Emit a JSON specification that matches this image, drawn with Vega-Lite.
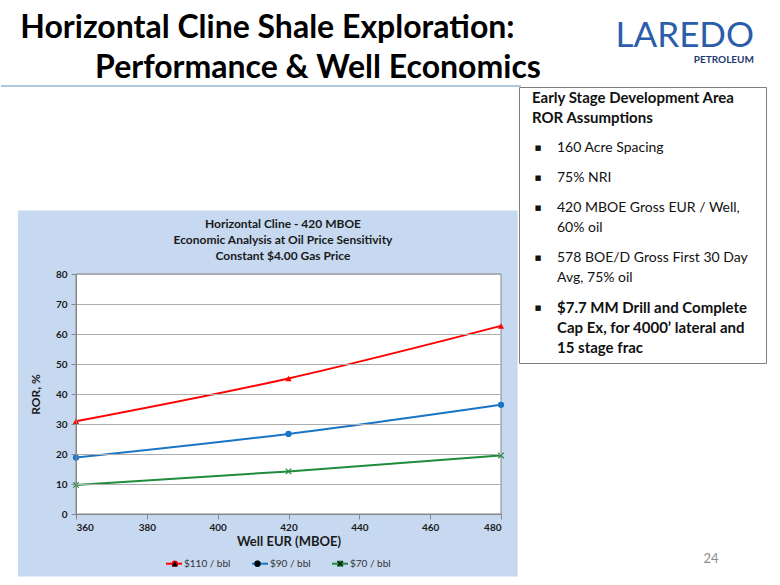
{
  "$schema": "https://vega.github.io/schema/vega-lite/v6.json",
  "background": "white",
  "padding": {"left": 0, "top": 12, "right": 0, "bottom": 0},
  "config": {
    "font": "Lato",
    "view": {"stroke": "#7F7F7F", "strokeWidth": 1, "fill": "white"}
  },
  "align": "none",
  "spacing": -28,
  "hconcat": [
    {
      "width": 425,
      "height": 427,
      "view": {"stroke": null, "fill": null},
      "title": {
        "text": ["Horizontal Cline Shale Exploration:\u00a0\u00a0\u00a0\u00a0\u200b", "\u200b\u00a0\u00a0\u00a0\u00a0\u00a0\u00a0\u00a0\u00a0\u00a0Performance & Well Economics"],
        "subtitle": ["Horizontal Cline - 420 MBOE", "Economic Analysis at Oil Price Sensitivity", "Constant $4.00 Gas Price"],
        "anchor": "middle",
        "frame": "group",
        "dx": -5.5,
        "offset": -178,
        "font": "Lato",
        "fontSize": 32,
        "fontWeight": "bold",
        "color": "#000000",
        "lineHeight": 40,
        "subtitleFont": "Lato",
        "subtitleFontSize": 12,
        "subtitleFontWeight": "bold",
        "subtitleColor": "#1A1A1A",
        "subtitleLineHeight": 16,
        "subtitlePadding": 134
      },
      "data": {
        "values": [
          {"eur": 360, "ror": 30.9, "series": "$110 / bbl"},
          {"eur": 420, "ror": 45.2, "series": "$110 / bbl"},
          {"eur": 480, "ror": 62.7, "series": "$110 / bbl"},
          {"eur": 360, "ror": 18.8, "series": "$90 / bbl"},
          {"eur": 420, "ror": 26.7, "series": "$90 / bbl"},
          {"eur": 480, "ror": 36.4, "series": "$90 / bbl"},
          {"eur": 360, "ror": 9.7, "series": "$70 / bbl"},
          {"eur": 420, "ror": 14.2, "series": "$70 / bbl"},
          {"eur": 480, "ror": 19.5, "series": "$70 / bbl"}
        ]
      },
      "layer": [
        {
          "data": {"values": [{}]},
          "mark": {"type": "rule", "color": "#95B3D7", "strokeWidth": 1.5},
          "encoding": {
            "x": {"datum": 338.8, "type": "quantitative"},
            "x2": {"datum": 485.6},
            "y": {"datum": 142.7, "type": "quantitative"}
          }
        },
        {
          "data": {"values": [{}]},
          "mark": {"type": "rect", "fill": "#C6D9F1", "stroke": null},
          "encoding": {
            "x": {"datum": 343.6, "type": "quantitative"},
            "x2": {"datum": 484.7},
            "y": {"datum": -20.8, "type": "quantitative"},
            "y2": {"datum": 101.2}
          }
        },
        {
          "data": {"values": [{}]},
          "mark": {"type": "rect", "fill": "white", "stroke": "#868686", "strokeWidth": 1},
          "encoding": {
            "x": {"datum": 360, "type": "quantitative"},
            "x2": {"datum": 480},
            "y": {"datum": 0, "type": "quantitative"},
            "y2": {"datum": 80}
          }
        },
        {
          "mark": {"type": "line", "interpolate": "monotone", "strokeWidth": 2},
          "encoding": {
            "x": {
              "field": "eur", "type": "quantitative",
              "scale": {"domain": [360, 480], "nice": false, "zero": false},
              "axis": {
                "title": "Well EUR (MBOE)", "grid": false, "tickCount": 6, "zindex": 1,
                "domainColor": "#868686", "tickColor": "#868686", "tickSize": 5,
                "labelFont": "Lato", "labelFontSize": 10, "labelFontWeight": "bold", "labelColor": "#1A1A1A", "labelPadding": 3,
                "titleFont": "Lato", "titleFontSize": 13, "titleFontWeight": "bold", "titleColor": "#1A1A1A", "titlePadding": 3
              }
            },
            "y": {
              "field": "ror", "type": "quantitative",
              "scale": {"domain": [0, 80], "nice": false, "range": [427, 187]},
              "axis": {
                "title": "ROR, %", "grid": true, "tickCount": 8, "zindex": 1,
                "gridColor": "#ADADAD", "gridWidth": 1.2,
                "domainColor": "#868686", "tickColor": "#868686", "tickSize": 5,
                "labelFont": "Lato", "labelFontSize": 10, "labelFontWeight": "bold", "labelColor": "#1A1A1A", "labelPadding": 4,
                "titleFont": "Lato", "titleFontSize": 12, "titleFontWeight": "bold", "titleColor": "#1A1A1A", "titlePadding": 13
              }
            },
            "color": {
              "field": "series", "type": "nominal",
              "scale": {"domain": ["$110 / bbl", "$90 / bbl", "$70 / bbl"], "range": ["#FF0000", "#1A74C6", "#1E8C3A"]},
              "legend": {
                "title": null, "orient": "none", "legendX": 89, "legendY": 467.7, "direction": "horizontal",
                "symbolType": "stroke", "symbolSize": 256, "symbolStrokeWidth": 2,
                "labelFont": "Lato", "labelFontSize": 10, "labelColor": "#333333", "labelOffset": 1,
                "columnPadding": 17, "padding": 0
              }
            }
          }
        },
        {
          "mark": {"type": "point", "filled": true, "opacity": 1, "strokeWidth": 0, "size": 40},
          "encoding": {
            "x": {"field": "eur", "type": "quantitative"},
            "y": {"field": "ror", "type": "quantitative"},
            "color": {
              "field": "series", "type": "nominal",
              "legend": {
                "title": null, "orient": "none", "legendX": 93.8, "legendY": 471.7, "direction": "horizontal",
                "symbolSize": 40, "symbolStrokeWidth": 0, "symbolOpacity": 1, "labelExpr": "''",
                "labelFontSize": 10, "labelOffset": 1,
                "columnPadding": 71.7, "padding": 0
              }
            },
            "shape": {
              "field": "series", "type": "nominal",
              "scale": {"domain": ["$110 / bbl", "$90 / bbl", "$70 / bbl"], "range": ["triangle-up", "circle", "M-1,-0.75L-0.75,-1L0,-0.25L0.75,-1L1,-0.75L0.25,0L1,0.75L0.75,1L0,0.25L-0.75,1L-1,0.75L-0.25,0Z"]},
              "legend": {
                "title": null, "orient": "none", "legendX": 93.8, "legendY": 471.7, "direction": "horizontal",
                "symbolSize": 40, "symbolStrokeWidth": 0, "symbolOpacity": 1, "labelExpr": "''",
                "labelFontSize": 10, "labelOffset": 1,
                "columnPadding": 71.7, "padding": 0
              }
            }
          }
        }
      ],
      "resolve": {"legend": {"color": "independent"}}
    },
    {
      "width": 247,
      "height": 276,
      "title": {
        "text": "LAREDO",
        "subtitle": "PETROLEUM",
        "anchor": "end",
        "frame": "group",
        "dx": -12,
        "offset": 22,
        "font": "Lato",
        "fontSize": 35,
        "fontWeight": "normal",
        "color": "#2B5DAA",
        "subtitleFont": "Lato",
        "subtitleFontSize": 10,
        "subtitleFontWeight": "bold",
        "subtitleColor": "#1F3A6E",
        "subtitlePadding": 1
      },
      "data": {
        "values": [
          {"line": 0, "level": "heading", "bold": true, "bullet": false, "text": "Early Stage Development Area"},
          {"line": 2, "level": "heading", "bold": true, "bullet": false, "text": "ROR Assumptions"},
          {"line": 5, "level": "item", "bold": false, "bullet": true, "text": "160 Acre Spacing"},
          {"line": 8, "level": "item", "bold": false, "bullet": true, "text": "75% NRI"},
          {"line": 11, "level": "item", "bold": false, "bullet": true, "text": "420 MBOE Gross EUR / Well,"},
          {"line": 13, "level": "item", "bold": false, "bullet": false, "text": "60% oil"},
          {"line": 16, "level": "item", "bold": false, "bullet": true, "text": "578 BOE/D Gross First 30 Day"},
          {"line": 18, "level": "item", "bold": false, "bullet": false, "text": "Avg, 75% oil"},
          {"line": 21, "level": "item", "bold": true, "bullet": true, "text": "$7.7 MM Drill and Complete"},
          {"line": 23, "level": "item", "bold": true, "bullet": false, "text": "Cap Ex, for 4000\u2019 lateral and"},
          {"line": 25, "level": "item", "bold": true, "bullet": false, "text": "15 stage frac"}
        ]
      },
      "encoding": {
        "y": {"field": "line", "type": "quantitative", "scale": {"domain": [-1.1, 26.5], "reverse": true, "nice": false, "zero": false}, "axis": null},
        "x": {"field": "level", "type": "nominal", "scale": {"type": "point", "domain": ["heading", "item"], "range": [13, 38], "padding": 0}, "axis": null}
      },
      "layer": [
        {
          "transform": [{"filter": "!datum.bold"}],
          "mark": {"type": "text", "align": "left", "baseline": "middle", "font": "Lato", "fontSize": 14, "color": "#111111"},
          "encoding": {"text": {"field": "text"}}
        },
        {
          "transform": [{"filter": "datum.bold"}],
          "mark": {"type": "text", "align": "left", "baseline": "middle", "font": "Lato", "fontSize": 15, "fontWeight": "bold", "color": "#111111"},
          "encoding": {"text": {"field": "text"}}
        },
        {
          "transform": [{"filter": "datum.bullet"}],
          "mark": {"type": "text", "text": "\u25a0", "align": "center", "baseline": "middle", "dx": -19, "font": "DejaVu Sans", "fontSize": 7, "color": "#111111"}
        },
        {
          "data": {"values": [{"level": "item", "line": 46.1, "page": "24"}]},
          "mark": {"type": "text", "align": "center", "baseline": "middle", "dx": 154, "font": "Lato", "fontSize": 13, "color": "#8C8C8C", "clip": false},
          "encoding": {
            "text": {"field": "page", "type": "nominal"}
          }
        }
      ]
    }
  ]
}
